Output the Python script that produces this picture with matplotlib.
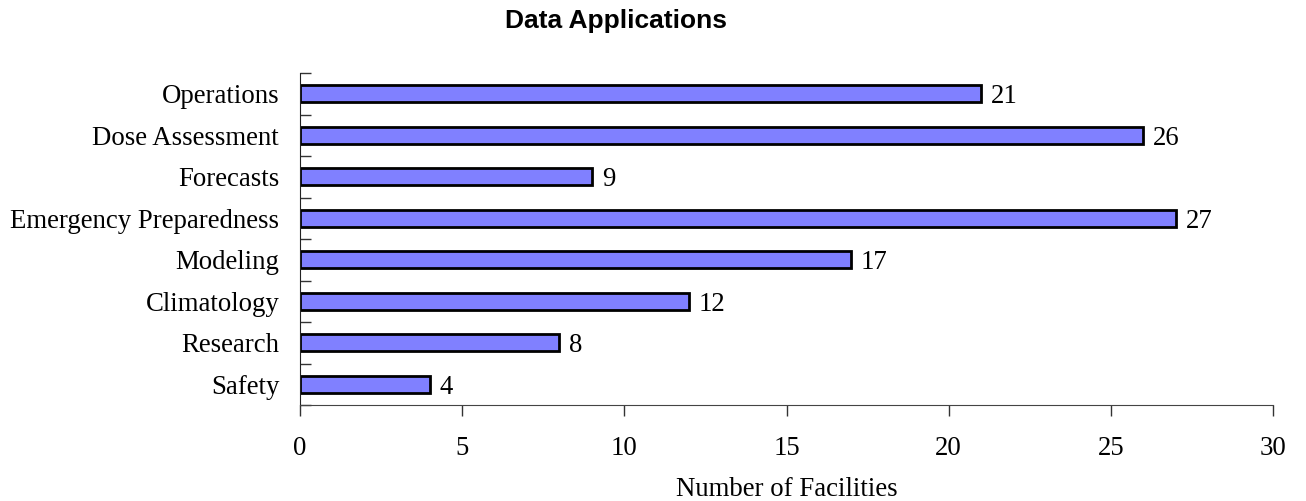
import matplotlib
matplotlib.use("Agg")
import matplotlib.pyplot as plt
import numpy as np

categories = ["Operations", "Dose Assessment", "Forecasts", "Emergency Preparedness",
              "Modeling", "Climatology", "Research", "Safety"]
values = [21, 26, 9, 27, 17, 12, 8, 4]
xticks = [0, 5, 10, 15, 20, 25, 30]
title = "Data Applications"
xlabel = "Number of Facilities"

serif = ["Liberation Serif", "DejaVu Serif"]
sans = ["Liberation Sans", "DejaVu Sans"]
FS = 19.3

fig = plt.figure(figsize=(13.06, 5.01), dpi=100)
ax = fig.add_axes([300/1306, (501-405)/501, (1273-300)/1306, (405-73)/501])

n = len(categories)
ypos = np.arange(n)[::-1]
ax.barh(ypos, values, height=0.41, color="#8080FF", edgecolor="black", linewidth=2.0)
for y, v in zip(ypos, values):
    ax.text(v + 0.3, y, str(v), va="center_baseline", ha="left", fontsize=FS, family=serif)

ax.set_xlim(0, 30)
ax.set_ylim(-0.5, n - 0.5)
ax.set_xticks(xticks)
ax.set_xticklabels([str(t) for t in xticks], fontsize=FS, family=serif)
ax.set_yticks(ypos)
ax.set_yticklabels(categories, fontsize=FS, family=serif, va="center_baseline")
ax.tick_params(axis="y", length=0, pad=15)
ax.set_yticks(np.arange(-0.5, n, 1.0), minor=True)
ax.tick_params(axis="y", which="minor", direction="in", length=8, width=1, color="#333333")
ax.tick_params(axis="x", direction="out", length=8, width=1, pad=14, color="#333333")
for s in ["top", "right"]:
    ax.spines[s].set_visible(False)
ax.spines["left"].set_color("#222222")
ax.spines["bottom"].set_color("#444444")
ax.set_xlabel(xlabel, fontsize=FS, family=serif, labelpad=12)
fig.text(616/1306, 1 - 28/501, title, ha="center", va="baseline", fontsize=19, fontweight="bold", family=sans)

fig.savefig("out.png", dpi=100)
